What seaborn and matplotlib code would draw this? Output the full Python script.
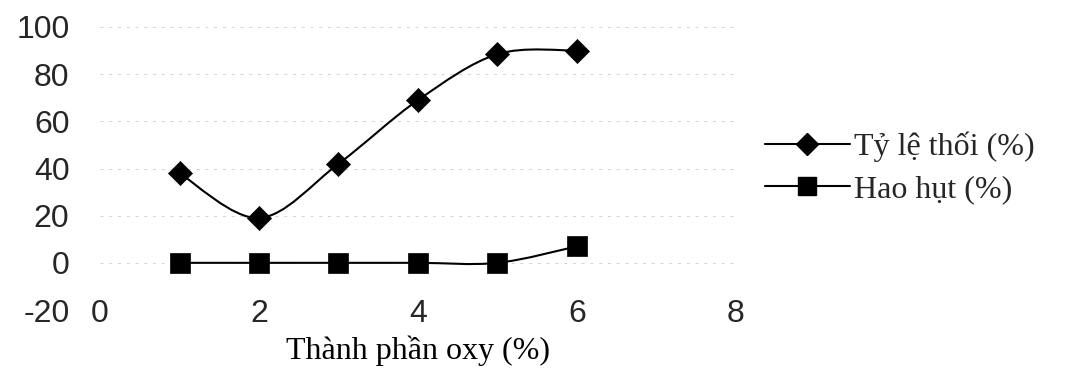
import numpy as np
import pandas as pd
import matplotlib
matplotlib.use("Agg")
import matplotlib.pyplot as plt
import seaborn as sns
from matplotlib.path import Path
from matplotlib.patches import PathPatch
from matplotlib.lines import Line2D
from matplotlib.font_manager import FontProperties

# ---- data ----
oxy = [1, 2, 3, 4, 5, 6]
ty_le_thoi = [38, 19, 42, 69, 88.5, 90]
hao_hut = [0, 0, 0, 0, 0, 7]
x_ticks = [0, 2, 4, 6, 8]
y_ticks = [-20, 0, 20, 40, 60, 80, 100]
series_names = ["Tỷ lệ thối (%)", "Hao hụt (%)"]
x_label = "Thành phần oxy (%)"

sns.set_theme(style="white")
plt.rcParams["font.family"] = ["Liberation Sans", "DejaVu Sans"]

fig = plt.figure(figsize=(10.77, 3.82), dpi=100)
ax = fig.add_axes([100 / 1077, 1 - 310 / 382, 636 / 1077, 283 / 382])


def smooth_path(xs, ys):
    xs = np.asarray(xs, float)
    ys = np.asarray(ys, float)
    px = np.concatenate([[xs[0]], xs, [xs[-1]]])
    py = np.concatenate([[ys[0]], ys, [ys[-1]]])
    verts = [(xs[0], ys[0])]
    codes = [Path.MOVETO]
    for i in range(1, len(px) - 2):
        c1 = (px[i] + (px[i + 1] - px[i - 1]) / 6, py[i] + (py[i + 1] - py[i - 1]) / 6)
        c2 = (px[i + 1] - (px[i + 2] - px[i]) / 6, py[i + 1] - (py[i + 2] - py[i]) / 6)
        verts += [c1, c2, (px[i + 1], py[i + 1])]
        codes += [Path.CURVE4] * 3
    return Path(verts, codes)


for ys in (ty_le_thoi, hao_hut):
    ax.add_patch(PathPatch(smooth_path(oxy, ys), facecolor="none",
                           edgecolor="black", lw=1.5, zorder=2))

sns.scatterplot(x=oxy, y=ty_le_thoi, marker="D", s=150, color="black",
                edgecolor="black", linewidth=0.5, ax=ax, zorder=3)
sns.scatterplot(x=oxy, y=hao_hut, marker="s", s=190, color="black",
                edgecolor="black", linewidth=0.5, ax=ax, zorder=3)

ax.set_xlim(0, 8)
ax.set_ylim(-20, 100)
ax.set_xticks(x_ticks)
ax.set_yticks(y_ticks)
ax.set_xticklabels([str(v) for v in x_ticks])
ax.set_yticklabels([str(v) for v in y_ticks])
for s in ax.spines.values():
    s.set_visible(False)
ax.grid(axis="y", color="#d2d2d2", linestyle=(0, (3, 6)), lw=0.7, zorder=0)
ax.grid(axis="x", visible=False)

ax.tick_params(axis="x", length=0, pad=0, labelsize=23)
ax.tick_params(axis="y", length=0, pad=22, labelsize=23)
for lbl in ax.get_xticklabels():
    lbl.set_va("center_baseline")
    lbl.set_fontfamily("Liberation Sans")
for lbl in ax.get_yticklabels():
    lbl.set_fontfamily("Liberation Sans")

ax.set_xlabel(x_label, fontfamily="Liberation Serif", fontsize=23, color="black")
ax.xaxis.set_label_coords(0.5, -0.09)

handles = [
    Line2D([], [], color="black", lw=1.5, marker="D", markersize=11),
    Line2D([], [], color="black", lw=1.5, marker="s", markersize=13),
]
ax.legend(handles, series_names, loc="center left",
          bbox_to_anchor=(765 / 1077, 1 - 168 / 382), bbox_transform=fig.transFigure,
          frameon=False, prop=FontProperties(family="Liberation Serif", size=23),
          handlelength=2.65, handletextpad=0.15, labelspacing=0.42,
          borderpad=0, borderaxespad=0)

fig.savefig("out.png", dpi=100, facecolor="white")
